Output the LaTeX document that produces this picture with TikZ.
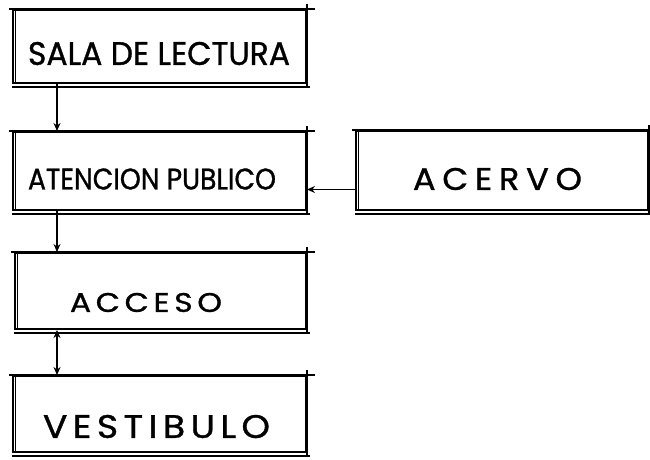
\documentclass[tikz,border=0pt]{standalone}
\usepackage{fontspec}
\setmainfont{Poppins}
\newfontfamily\sketchfont{Poppins}[FakeBold=1.0]
\usetikzlibrary{arrows.meta,calc}
\newcommand\fitbox[3]{\resizebox{#1pt}{#2pt}{#3}}
\newcommand\sketchedges[1]{%
  \draw[edge] ([xshift=-3pt]#1.north west) -- ([xshift=8pt]#1.north east);
  \draw[edge] ([yshift=5pt]#1.north east) -- ([yshift=-3pt]#1.south east);
  \draw[edge,line width=1.2pt] ([xshift=3.5pt]#1.north west) -- ([xshift=3.5pt]#1.south west);
  \draw[edge,line width=1.6pt] ([yshift=-3pt]#1.south west) -- ([yshift=-3pt,xshift=3pt]#1.south east);
}
\begin{document}
\begin{tikzpicture}[x=1pt,y=-1pt,
  box/.style={draw,line width=2pt,minimum width=#1pt,inner sep=0pt},
  edge/.style={line width=1.8pt},
  lbl/.style={inner sep=0pt,font=\sketchfont},
  conn/.style={line width=1.5pt,-{Stealth[length=8pt,width=7pt]}},
  conn2/.style={line width=1.5pt,{Stealth[length=8pt,width=7pt]}-{Stealth[length=8pt,width=7pt]}}]
\useasboundingbox (0,0) rectangle (650,460);
\fill[white] (0,0) rectangle (650,460);

\node[box=293,minimum height=73pt] (sala) at (159.5,46.5) {};
\node[box=293,minimum height=78pt] (aten) at (159.5,171) {};
\node[box=292,minimum height=79pt] (acervo) at (502,170.5) {};
\node[box=291,minimum height=76pt] (acceso) at (160.5,291) {};
\node[box=293,minimum height=76pt] (vest) at (159.5,414) {};

\sketchedges{sala}
\sketchedges{aten}
\sketchedges{acervo}
\sketchedges{acceso}
\sketchedges{vest}

\node[lbl] (tsala) at (159,53.5) {\fitbox{262}{23}{SALA DE LECTURA}};
\node[lbl] (taten) at (152,179) {\fitbox{248}{21}{ATENCION PUBLICO}};
\node[lbl] (tacervo) at (497.5,179) {\fitbox{169}{22}{A\hspace{0.2em}C\hspace{0.2em}E\hspace{0.2em}R\hspace{0.2em}V\hspace{0.2em}O}};
\node[lbl] (tacceso) at (146,302.5) {\fitbox{152}{19}{A\hspace{0.15em}C\hspace{0.15em}C\hspace{0.15em}E\hspace{0.15em}S\hspace{0.15em}O}};
\node[lbl] (tvest) at (156.5,426.5) {\fitbox{227}{23}{V\hspace{0.15em}E\hspace{0.15em}S\hspace{0.15em}T\hspace{0.15em}I\hspace{0.15em}B\hspace{0.15em}U\hspace{0.15em}L\hspace{0.15em}O}};

\draw[conn] ([xshift=45pt]sala.south west) -- ([xshift=45pt]aten.north west);
\draw[conn] ([yshift=-19pt]acervo.west) coordinate (h1) -- (h1 -| aten.east);
\draw[conn] ([xshift=45pt]aten.south west) -- ([xshift=43pt]acceso.north west);
\draw[conn2] ([xshift=43pt]acceso.south west) -- ([xshift=45pt]vest.north west);
\end{tikzpicture}
\end{document}
